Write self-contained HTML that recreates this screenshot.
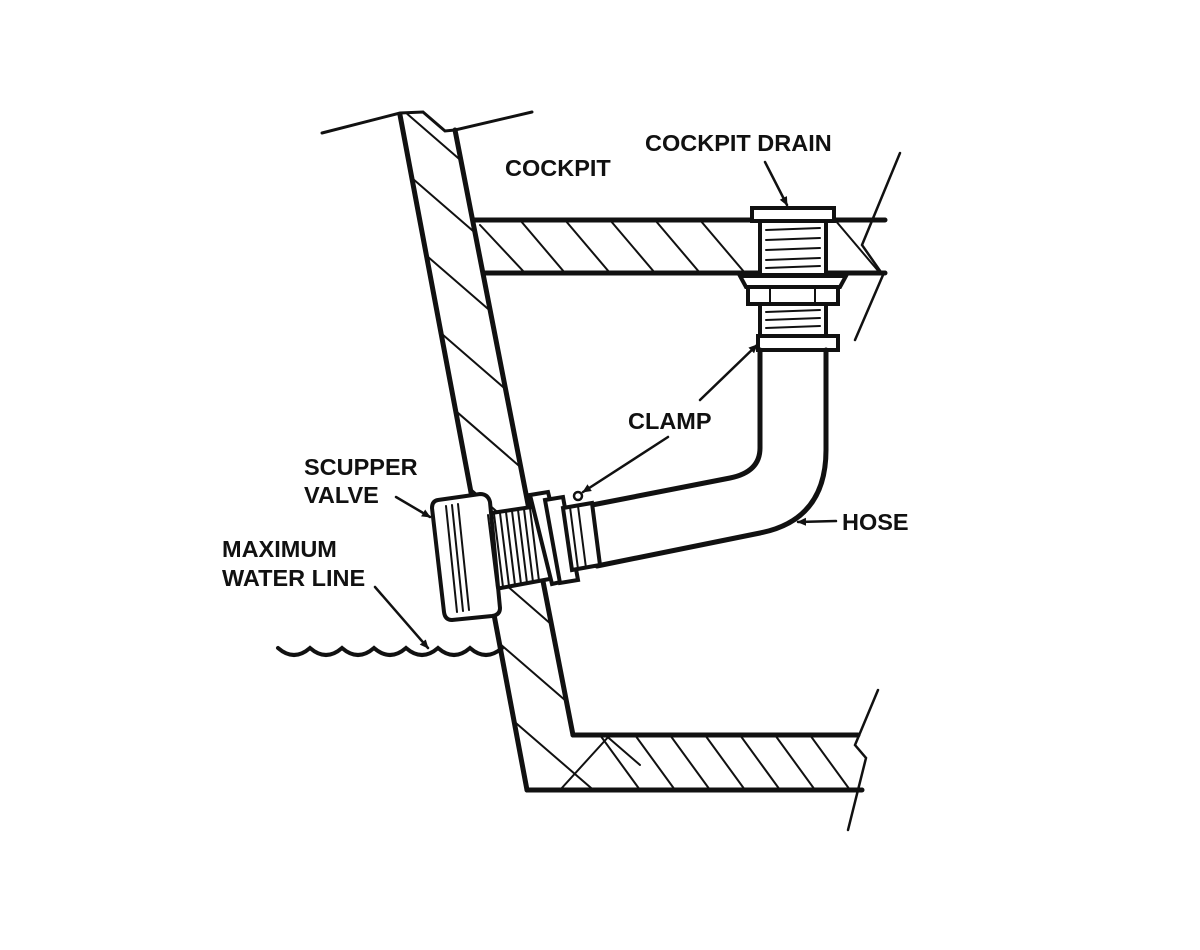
<!DOCTYPE html>
<html><head><meta charset="utf-8"><style>
html,body{margin:0;padding:0;background:#fff;width:1200px;height:950px;overflow:hidden}
svg{display:block}
text{font-family:"Liberation Sans",sans-serif;font-weight:bold;font-size:23.5px;fill:#111}
</style></head><body>
<svg width="1200" height="950" viewBox="0 0 1200 950" xmlns="http://www.w3.org/2000/svg">
<defs>
<clipPath id="hull"><polygon points="400,115 423,112 445,131 455,130 573,735 860,735 860,790 527,790"/></clipPath>
<clipPath id="deck"><polygon points="470,220 885,220 885,273 480,273"/></clipPath>
<marker id="ah" markerWidth="10" markerHeight="10" refX="8" refY="5" orient="auto" markerUnits="userSpaceOnUse"><path d="M0,1 L9,5 L0,9 z" fill="#111"/></marker>
</defs>
<g stroke="#111" fill="none" stroke-linecap="round">
<g clip-path="url(#hull)" stroke-width="2">
<line x1="390" y1="99" x2="600" y2="281"/>
<line x1="390" y1="159" x2="600" y2="341"/>
<line x1="390" y1="224" x2="600" y2="406"/>
<line x1="390" y1="289" x2="600" y2="471"/>
<line x1="390" y1="354" x2="600" y2="536"/>
<line x1="390" y1="419" x2="600" y2="601"/>
<line x1="430" y1="519" x2="620" y2="684"/>
<line x1="470" y1="618" x2="640" y2="765"/>
<line x1="480" y1="692" x2="605" y2="800"/>
<line x1="500" y1="766" x2="540" y2="800"/>
<line x1="600" y1="735" x2="640" y2="790"/>
<line x1="635" y1="735" x2="675" y2="790"/>
<line x1="670" y1="735" x2="710" y2="790"/>
<line x1="705" y1="735" x2="745" y2="790"/>
<line x1="740" y1="735" x2="780" y2="790"/>
<line x1="775" y1="735" x2="815" y2="790"/>
<line x1="810" y1="735" x2="850" y2="790"/>
<line x1="560" y1="790" x2="610" y2="735"/>
</g>
<g clip-path="url(#deck)" stroke-width="2">
<line x1="480" y1="225" x2="525" y2="273"/>
<line x1="520" y1="220" x2="565" y2="273"/>
<line x1="565" y1="220" x2="610" y2="273"/>
<line x1="610" y1="220" x2="655" y2="273"/>
<line x1="655" y1="220" x2="700" y2="273"/>
<line x1="700" y1="220" x2="745" y2="273"/>
<line x1="835" y1="220" x2="880" y2="273"/>
</g>
<path d="M322,133 L400,113 L423,112 L445,131 L455,130 L532,112" stroke-width="3"/>
<line x1="400" y1="115" x2="527" y2="790" stroke-width="5"/>
<line x1="455" y1="130" x2="573" y2="735" stroke-width="5"/>
<line x1="527" y1="790" x2="862" y2="790" stroke-width="5"/>
<line x1="573" y1="735" x2="858" y2="735" stroke-width="5"/>
<line x1="473" y1="220" x2="885" y2="220" stroke-width="5"/>
<line x1="483" y1="273" x2="885" y2="273" stroke-width="5"/>
<path d="M900,153 L862,245 L883,275 L855,340" stroke-width="2.5"/>
<path d="M878,690 L855,745 L866,758 L848,830" stroke-width="2.5"/>
<path d="M278,648 q16,14 32,0 q16,14 32,0 q16,14 32,0 q16,14 32,0 q16,14 32,0 q16,14 32,0 q16,14 32,0" stroke-width="4"/>
<g fill="#fff" stroke-width="4">
<rect x="752" y="208" width="82" height="13"/>
<rect x="760" y="221" width="66" height="54"/>
<path d="M740,276 L846,276 L840,287 L746,287 z"/>
<rect x="748" y="287" width="90" height="17"/>
<rect x="760" y="304" width="66" height="32"/>
<rect x="758" y="336" width="80" height="14"/>
</g>
<g stroke-width="2">
<line x1="766" y1="230" x2="820" y2="228"/><line x1="766" y1="240" x2="820" y2="238"/><line x1="766" y1="250" x2="820" y2="248"/><line x1="766" y1="260" x2="820" y2="258"/><line x1="766" y1="268" x2="820" y2="266"/>
<line x1="766" y1="312" x2="820" y2="310"/><line x1="766" y1="320" x2="820" y2="318"/><line x1="766" y1="328" x2="820" y2="326"/>
<line x1="770" y1="287" x2="770" y2="304"/><line x1="815" y1="287" x2="815" y2="304"/>
</g>
<path d="M760,350 L760,448 Q760,472 730,478 L592,505" stroke-width="5"/>
<path d="M826,350 L826,450 Q826,520 760,533 L597,566" stroke-width="5"/>
<g fill="#fff" stroke-width="4">
<path d="M478,515 L545,505 L555,578 L490,590 z"/>
<path d="M438,500 L480,494 Q488,494 490,502 L500,608 Q500,615 492,616 L452,620 Q445,620 444,612 L432,508 Q432,501 438,500 z"/>
<path d="M530,495 L548,492 L570,580 L552,584 z"/>
<path d="M545,500 L563,497 L578,580 L560,583 z"/>
<path d="M563,508 L592,503 L600,565 L572,570 z"/>
</g>
<g stroke-width="2">
<line x1="446" y1="506" x2="457" y2="612"/><line x1="452" y1="505" x2="463" y2="611"/><line x1="458" y1="504" x2="469" y2="610"/>
<line x1="488" y1="515" x2="497" y2="588"/><line x1="494" y1="514" x2="503" y2="587"/><line x1="500" y1="513" x2="509" y2="586"/><line x1="506" y1="512" x2="515" y2="585"/><line x1="512" y1="511" x2="521" y2="584"/><line x1="518" y1="510" x2="527" y2="583"/><line x1="524" y1="509" x2="533" y2="582"/><line x1="530" y1="508" x2="539" y2="581"/>
<line x1="570" y1="507" x2="578" y2="569"/><line x1="578" y1="506" x2="586" y2="568"/>
</g>
<circle cx="578" cy="496" r="4" stroke-width="2.5" fill="#fff"/>
<g stroke-width="2.5" marker-end="url(#ah)">
<line x1="765" y1="162" x2="787" y2="205"/>
<line x1="668" y1="437" x2="583" y2="492"/>
<line x1="700" y1="400" x2="757" y2="345"/>
<line x1="836" y1="521" x2="798" y2="522"/>
<line x1="396" y1="497" x2="430" y2="517"/>
<line x1="375" y1="587" x2="428" y2="648"/>
</g>
</g>
<text x="505" y="176">COCKPIT</text>
<text x="645" y="151">COCKPIT DRAIN</text>
<text x="628" y="429">CLAMP</text>
<text x="842" y="530">HOSE</text>
<text x="304" y="475">SCUPPER</text>
<text x="304" y="503">VALVE</text>
<text x="222" y="557">MAXIMUM</text>
<text x="222" y="586">WATER LINE</text>
</svg>
</body></html>
